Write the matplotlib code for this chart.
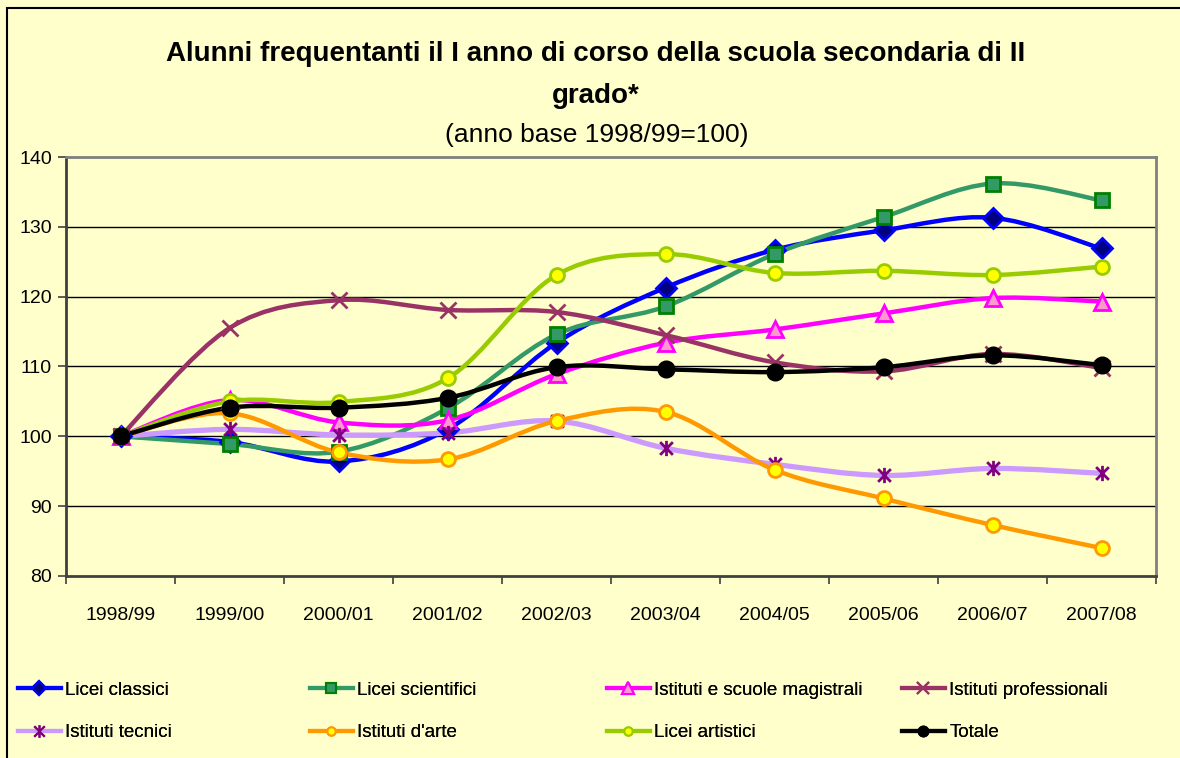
import numpy as np
import matplotlib
matplotlib.use("Agg")
import matplotlib.pyplot as plt
from matplotlib.path import Path
from matplotlib.patches import PathPatch, Rectangle
from matplotlib.lines import Line2D

plt.rcParams['font.family'] = ['Liberation Sans', 'DejaVu Sans']

# Data
years = ['1998/99', '1999/00', '2000/01', '2001/02', '2002/03',
         '2003/04', '2004/05', '2005/06', '2006/07', '2007/08']
licei_classici = [100, 99.2, 96.4, 101.0, 113.4, 121.3, 126.7, 129.5, 131.3, 126.9]
licei_scientifici = [100, 98.9, 97.8, 104.0, 114.6, 118.6, 126.1, 131.4, 136.2, 133.8]
magistrali = [100, 105.2, 102.0, 102.3, 108.9, 113.4, 115.3, 117.6, 119.8, 119.3]
professionali = [100, 115.5, 119.5, 118.1, 117.8, 114.5, 110.6, 109.3, 111.8, 109.8]
tecnici = [100, 101.0, 100.2, 100.5, 102.2, 98.3, 96.0, 94.4, 95.4, 94.7]
arte = [100, 103.3, 97.7, 96.7, 102.2, 103.5, 95.2, 91.1, 87.3, 84.0]
artistici = [100, 105.0, 104.9, 108.3, 123.1, 126.1, 123.4, 123.7, 123.1, 124.3]
totale = [100, 104.1, 104.1, 105.5, 109.9, 109.6, 109.2, 109.9, 111.6, 110.2]

# custom Excel-like asterisk marker
star = Path([(-1, -1), (1, 1), (-1, 1), (1, -1), (0, -1.2), (0, 1.2)],
            [Path.MOVETO, Path.LINETO, Path.MOVETO, Path.LINETO, Path.MOVETO, Path.LINETO])

series = [
    ('Licei classici', licei_classici, dict(color='#0000FF', marker='D', mfc='#000080', mec='#0000FF', ms=10, lms=7)),
    ('Licei scientifici', licei_scientifici, dict(color='#339966', marker='s', mfc='#339966', mec='#008000', ms=10, lms=7)),
    ('Istituti e scuole magistrali', magistrali, dict(color='#FF00FF', marker='^', mfc='#FF99CC', mec='#FF00FF', ms=12, lms=9)),
    ('Istituti professionali', professionali, dict(color='#993366', marker='x', mfc='#993366', mec='#993366', ms=11, lms=8)),
    ('Istituti tecnici', tecnici, dict(color='#CC99FF', marker=star, mfc='none', mec='#800080', ms=11, lms=9)),
    ("Istituti d'arte", arte, dict(color='#FF9900', marker='o', mfc='#FFFF00', mec='#FF9900', ms=10, lms=6)),
    ('Licei artistici', artistici, dict(color='#99CC00', marker='o', mfc='#FFFF00', mec='#99CC00', ms=10, lms=6)),
    ('Totale', totale, dict(color='#000000', marker='o', mfc='#000000', mec='#000000', ms=11, lms=7)),
]


def smooth_path(xs, ys):
    n = len(xs)
    verts = [(xs[0], ys[0])]
    codes = [Path.MOVETO]
    for i in range(n - 1):
        a = max(i - 1, 0)
        d = min(i + 2, n - 1)
        c1 = (xs[i] + (xs[i + 1] - xs[a]) / 6, ys[i] + (ys[i + 1] - ys[a]) / 6)
        c2 = (xs[i + 1] - (xs[d] - xs[i]) / 6, ys[i + 1] - (ys[d] - ys[i]) / 6)
        verts += [c1, c2, (xs[i + 1], ys[i + 1])]
        codes += [Path.CURVE4] * 3
    return Path(verts, codes)


bg = '#FFFFCC'
fig = plt.figure(figsize=(11.8, 7.58), dpi=100, facecolor=bg)
ax = fig.add_axes([66 / 1180, 1 - 576 / 758, 1090 / 1180, 419 / 758])
ax.set_facecolor(bg)

x = np.arange(len(years))
handles = []
for name, vals, st in series:
    lw = 3.8 if name == 'Istituti tecnici' else 3.2
    patch = PathPatch(smooth_path(x, vals), fill=False, edgecolor=st['color'], lw=lw,
                      capstyle='round', joinstyle='round', zorder=3)
    ax.add_patch(patch)
    ax.plot(x, vals, linestyle='none', marker=st['marker'], markersize=st['ms'],
            markerfacecolor=st['mfc'], markeredgecolor=st['mec'], markeredgewidth=2, zorder=4)
    handles.append(Line2D([], [], color=st['color'], lw=3, marker=st['marker'], markersize=st['lms'],
                          markerfacecolor=st['mfc'], markeredgecolor=st['mec'], markeredgewidth=1.5,
                          label=name))

ax.set_xlim(-0.5, len(years) - 0.5)
ax.set_ylim(80, 140)
ax.set_yticks(np.arange(80, 141, 10))
ax.set_xticks(x)
ax.set_xticklabels(years, fontsize=14)
ax.set_xticks(np.arange(-0.5, len(years)), minor=True)
ax.tick_params(axis='x', which='major', length=0, pad=22)
ax.tick_params(axis='x', which='minor', length=6, width=1.2, color='#404040')
ax.tick_params(axis='y', labelsize=14, length=6, width=1.2, color='#404040', pad=4)
for yv in range(90, 140, 10):
    ax.axhline(yv, color='black', lw=1, zorder=1)
for side in ['left', 'bottom']:
    ax.spines[side].set_color('#404040')
    ax.spines[side].set_linewidth(2)
for side in ['top', 'right']:
    ax.spines[side].set_color('#808080')
    ax.spines[side].set_linewidth(2)

fig.text(0.505, 0.929, 'Alunni frequentanti il I anno di corso della scuola secondaria di II',
         ha='center', va='center', fontsize=20, fontweight='bold')
fig.text(0.505, 0.873, 'grado*', ha='center', va='center', fontsize=20, fontweight='bold')
fig.text(0.506, 0.822, '(anno base 1998/99=100)', ha='center', va='center', fontsize=19)

# legend: 4 columns, 2 rows
col_x = [10, 302, 599, 894]
for c in range(4):
    leg = fig.legend(handles=[handles[c], handles[c + 4]], loc='upper left',
                     bbox_to_anchor=(col_x[c] / 1180, 1 - 674 / 758), frameon=False,
                     fontsize=13.5, handlelength=2.3, handletextpad=0.25, labelspacing=1.35,
                     borderaxespad=0)
    fig.add_artist(leg)

fig.patches.append(Rectangle((7 / 1180, -0.05), 1.2, 1.05 - 8 / 758, transform=fig.transFigure,
                             fill=False, edgecolor='black', lw=1.5))

fig.savefig('out.png', dpi=100, facecolor=bg)
